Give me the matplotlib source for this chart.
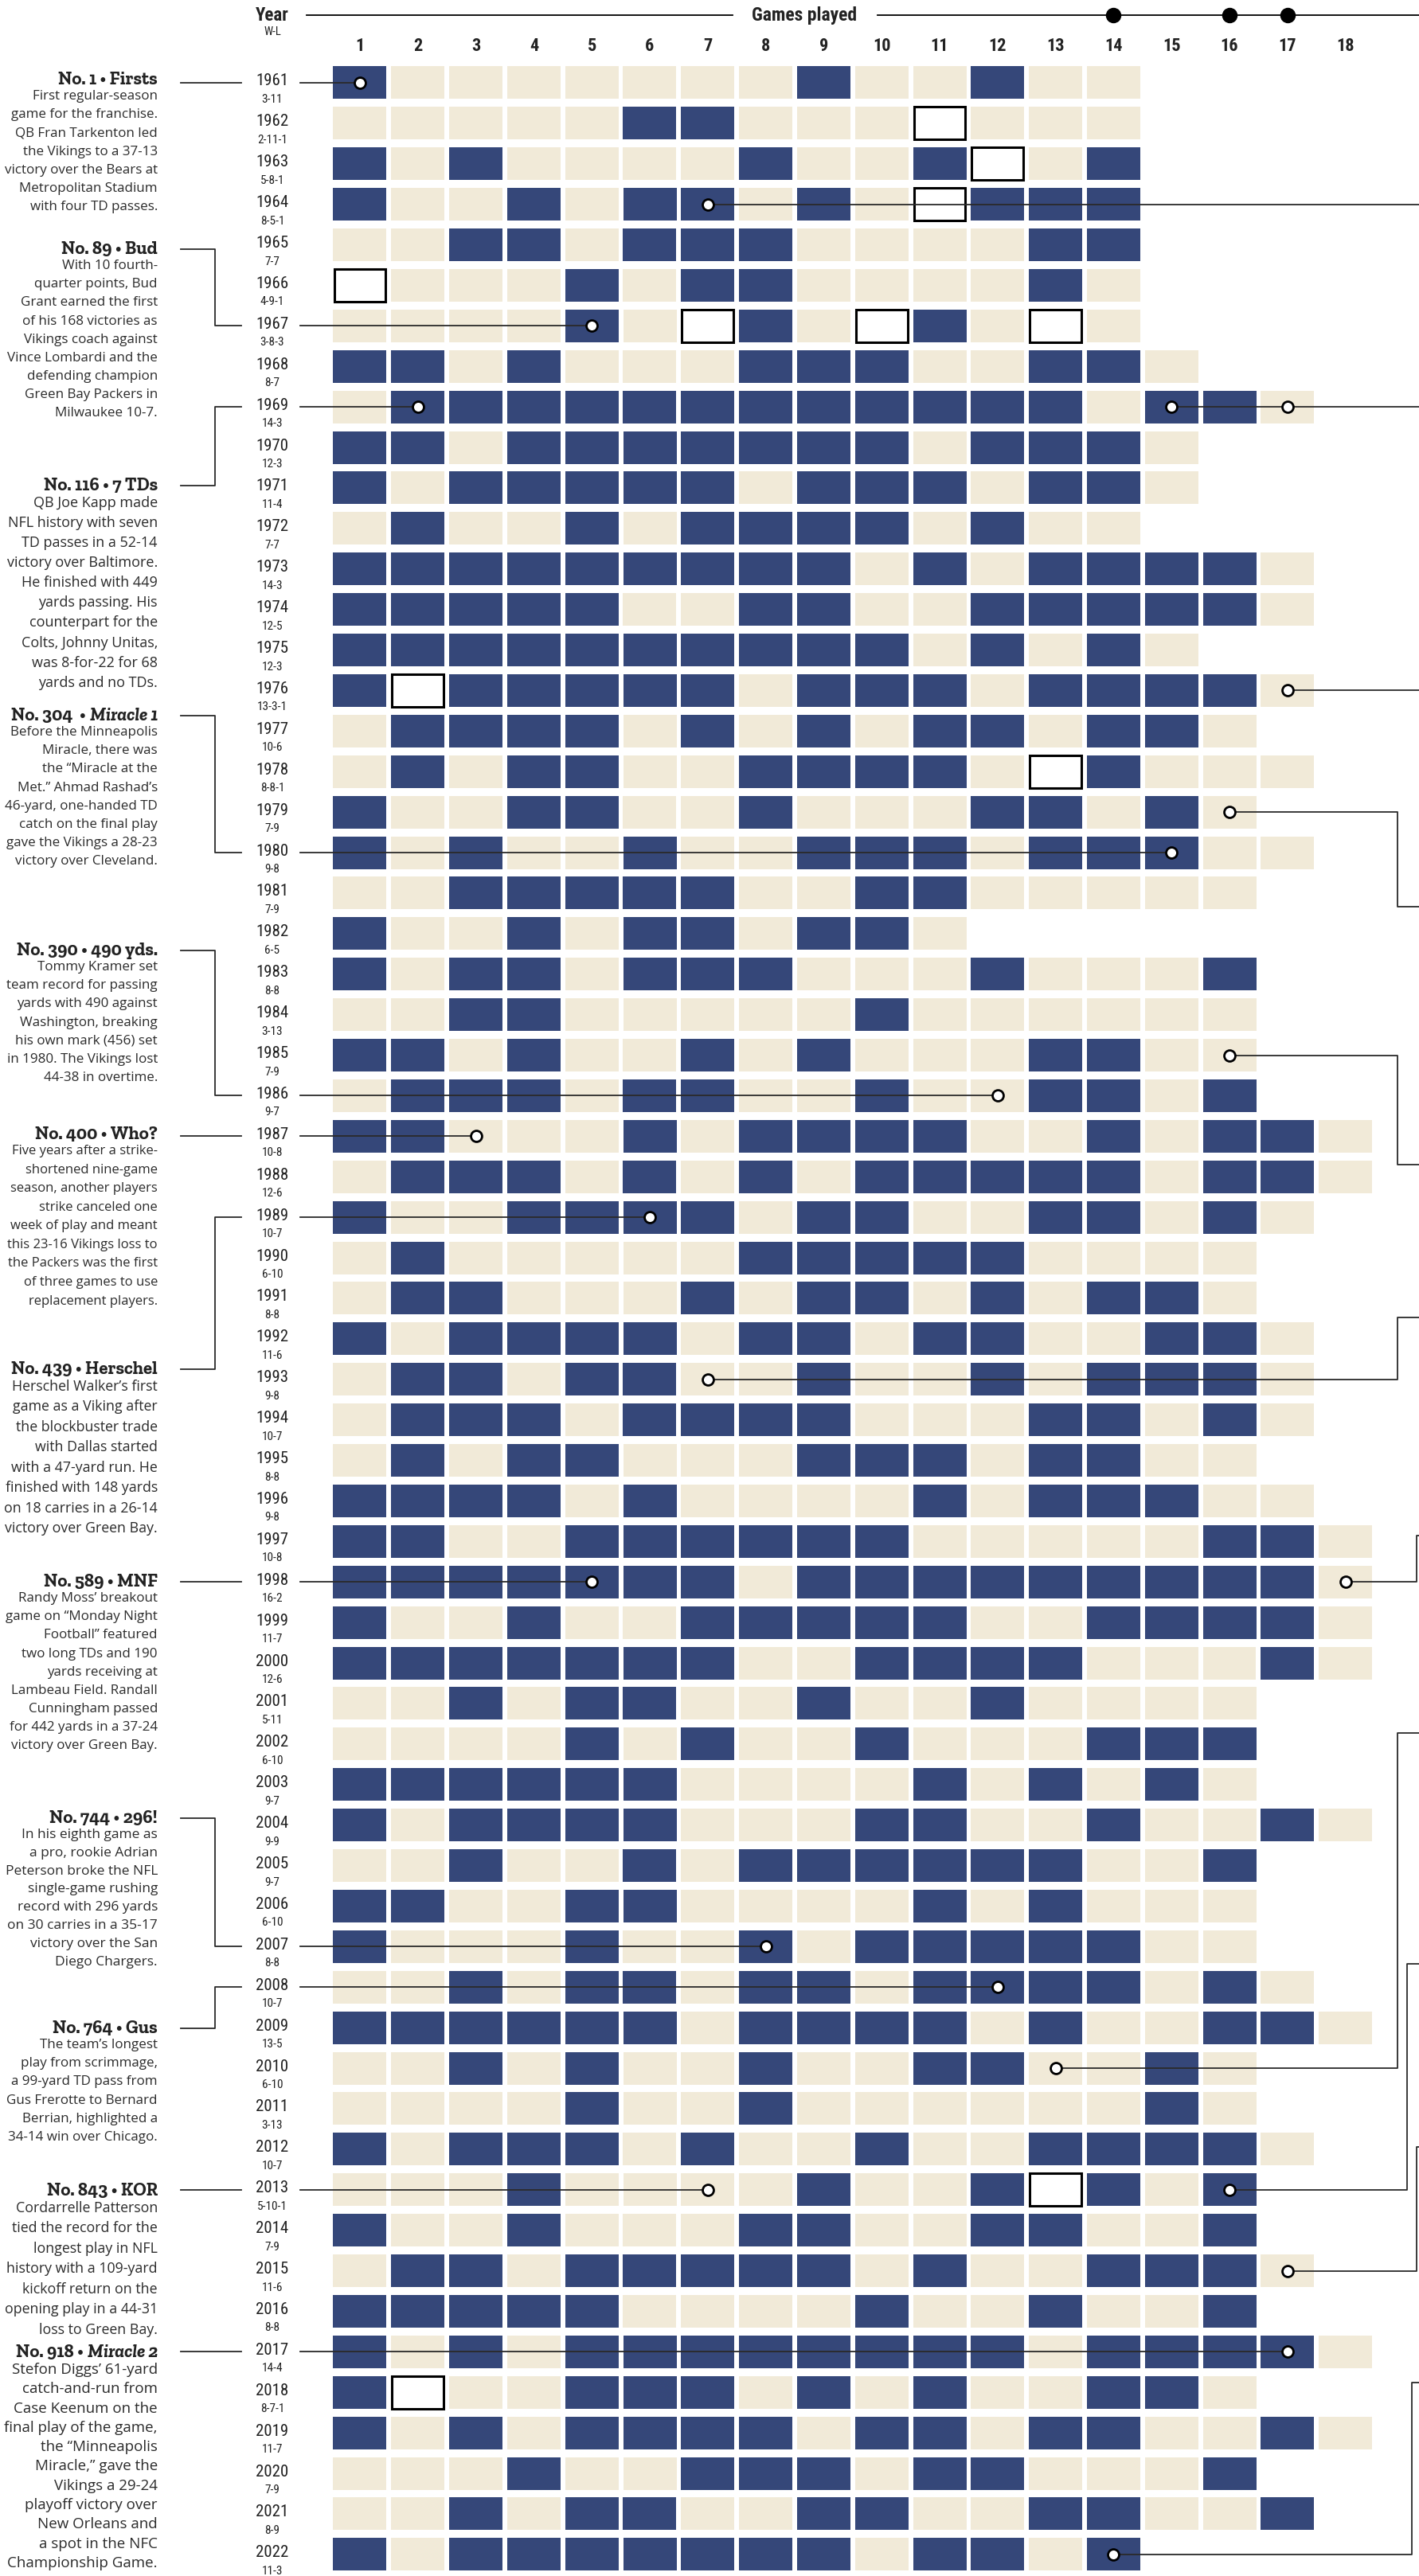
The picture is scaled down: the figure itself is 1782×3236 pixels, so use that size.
import matplotlib
matplotlib.use("Agg")
import matplotlib.pyplot as plt
from matplotlib import font_manager as fm

# ---- data -------------------------------------------------------------
years = list(range(1961, 2023))
records = ["3-11", "2-11-1", "5-8-1", "8-5-1", "7-7", "4-9-1", "3-8-3", "8-7",
           "14-3", "12-3", "11-4", "7-7", "14-3", "12-5", "12-3", "13-3-1",
           "10-6", "8-8-1", "7-9", "9-8", "7-9", "6-5", "8-8", "3-13", "7-9",
           "9-7", "10-8", "12-6", "10-7", "6-10", "8-8", "11-6", "9-8", "10-7",
           "8-8", "9-8", "10-8", "16-2", "11-7", "12-6", "5-11", "6-10", "9-7",
           "9-9", "9-7", "6-10", "8-8", "10-7", "13-5", "6-10", "3-13", "10-7",
           "5-10-1", "7-9", "11-6", "8-8", "14-4", "8-7-1", "11-7", "7-9",
           "8-9", "11-3"]
# W = win, L = loss, T = tie, game by game (playoffs included)
results = [
    "WLLLLLLLWLLWLL", "LLLLLWWLLLTLLL", "WLWLLLLWLLWTLW", "WLLWLWWLWLTWWW",
    "LLWWLWWWLLLLWW", "TLLLWLWWLLLLWL", "LLLLWLTWLTWLTL", "WWLWLLLWWWLLWWL",
    "LWWWWWWWWWWWWLWWL", "WWLWWWWWWWLWWWL", "WLWWWWWLWWWLWWL", "LWLLWLWWWWLWLL",
    "WWWWWWWWWLWLWWWWL", "WWWWWLLWWLLWWWWWL", "WWWWWWWWWWLWLWL", "WTWWWWWLWWWLWWWWL",
    "LWWWWLWLWLWWLWWL", "LWLWWLLWWWWLTWLLL", "WLLWWLLWLLLWWLWL", "WLWLLWLLWWWLWWWLL",
    "LLWWWWWLLWWLLLLL", "WLLWLWWLWWL", "WLWWLWWWLLLWLLLW", "LLWWLLLLLWLLLLLL",
    "WWLWLLWLWLLLWWLL", "LWWWLWWLLWLLWWLW", "WWLLLWLWWWWLLWLWWL", "LWWWLWLWLWWWWWLWWL",
    "WLLWWWWLWWLLWWLWL", "LWLLLLLWWWWWLLLL", "LWWLLLWLWWLWLWWL", "WLWWWWLWWLWWLLWWL",
    "LWWLWWLLWLLWLWWWL", "LWWWLWWWWLLLWWLWL", "LWLWWLLLWWWLWWLL", "WWWWLWLLLLWLWWWLL",
    "WWLLWWWWWWLLLLLWWL", "WWWWWWWLWWWWWWWWWL", "WLLWLLWWWWWLLWWWWL", "WWWWWWWLLWWWWLLLWL",
    "LLWLWWLLWLLWLLLL", "LLLLWLWLLWLLLWWW", "WWWWWWLLLLWLWLWL", "WLWWWWLLLWWLLWLLWL",
    "LLWLLWLWWWWWWLLW", "WWLLWWLLLLWLWLLL", "WLLLWLLWLWWWWWLL", "LLWLWWLWWLWWWWLWL",
    "WWWWWWLWWWWLWLLWWL", "LLWLWLLWLLWWLLWL", "LLLLWLLWLLLLLLWL", "WLWWWLWLLWLLWWWWL",
    "LLLWLLLLWLLWTWLW", "WLLWLLLWWLLWWLLW", "LWWLWWWWWLWLLWWWL", "WWWWWLLLLWLLWLLW",
    "WLWLWWWWWWWWLWWWWL", "WTLLWWWLWLWLLWWL", "WLWLWWWWLWWLWWLLWL", "LLLWLLWWWLWWLLLW",
    "LLWLWWLLWWLLWWLLW", "WLWWWWWWWLWWLW",
]
games = list(range(1, 19))
season_marks = [14, 16, 17]   # season length changes

# left notes: title, text, year, game, title y (px)
note_titles = ["No. 1 \u2022 Firsts", "No. 89 \u2022 Bud", "No. 116 \u2022 7 TDs",
               "No. 304  \u2022 Miracle 1", "No. 390 \u2022 490 yds.", "No. 400 \u2022 Who?",
               "No. 439 \u2022 Herschel", "No. 589 \u2022 MNF", "No. 744 \u2022 296!",
               "No. 764 \u2022 Gus", "No. 843 \u2022 KOR", "No. 918 \u2022 Miracle 2"]
note_texts = [
    "First regular-season\ngame for the franchise.\nQB Fran Tarkenton led\nthe Vikings to a 37-13\n"
    "victory over the Bears at\nMetropolitan Stadium\nwith four TD passes.",
    "With 10 fourth-\nquarter points, Bud\nGrant earned the first\nof his 168 victories as\n"
    "Vikings coach against\nVince Lombardi and the\ndefending champion\nGreen Bay Packers in\nMilwaukee 10-7.",
    "QB Joe Kapp made\nNFL history with seven\nTD passes in a 52-14\nvictory over Baltimore.\n"
    "He finished with 449\nyards passing. His\ncounterpart for the\nColts, Johnny Unitas,\n"
    "was 8-for-22 for 68\nyards and no TDs.",
    "Before the Minneapolis\nMiracle, there was\nthe \u201cMiracle at the\nMet.\u201d Ahmad Rashad\u2019s\n"
    "46-yard, one-handed TD\ncatch on the final play\ngave the Vikings a 28-23\nvictory over Cleveland.",
    "Tommy Kramer set\nteam record for passing\nyards with 490 against\nWashington, breaking\n"
    "his own mark (456) set\nin 1980. The Vikings lost\n44-38 in overtime.",
    "Five years after a strike-\nshortened nine-game\nseason, another players\nstrike canceled one\n"
    "week of play and meant\nthis 23-16 Vikings loss to\nthe Packers was the first\n"
    "of three games to use\nreplacement players.",
    "Herschel Walker\u2019s first\ngame as a Viking after\nthe blockbuster trade\nwith Dallas started\n"
    "with a 47-yard run. He\nfinished with 148 yards\non 18 carries in a 26-14\nvictory over Green Bay.",
    "Randy Moss\u2019 breakout\ngame on \u201cMonday Night\nFootball\u201d featured\ntwo long TDs and 190\n"
    "yards receiving at\nLambeau Field. Randall\nCunningham passed\nfor 442 yards in a 37-24\n"
    "victory over Green Bay.",
    "In his eighth game as\na pro, rookie Adrian\nPeterson broke the NFL\nsingle-game rushing\n"
    "record with 296 yards\non 30 carries in a 35-17\nvictory over the San\nDiego Chargers.",
    "The team\u2019s longest\nplay from scrimmage,\na 99-yard TD pass from\nGus Frerotte to Bernard\n"
    "Berrian, highlighted a\n34-14 win over Chicago.",
    "Cordarrelle Patterson\ntied the record for the\nlongest play in NFL\nhistory with a 109-yard\n"
    "kickoff return on the\nopening play in a 44-31\nloss to Green Bay.",
    "Stefon Diggs\u2019 61-yard\ncatch-and-run from\nCase Keenum on the\nfinal play of the game,\n"
    "the \u201cMinneapolis\nMiracle,\u201d gave the\nVikings a 29-24\nplayoff victory over\n"
    "New Orleans and\na spot in the NFC\nChampionship Game.",
]
note_years = [1961, 1967, 1969, 1980, 1986, 1987, 1989, 1998, 2007, 2008, 2013, 2017]
note_games = [1, 5, 2, 15, 12, 3, 6, 5, 8, 12, 7, 17]
note_title_y = [101, 314, 611, 900, 1195, 1426, 1721, 1988, 2285, 2549, 2753, 2956]

# right-hand leaders (their notes fall outside the crop)
right_years = [1964, 1969, 1976, 1979, 1985, 1993, 1998, 2010, 2013, 2015, 2022]
right_games = [7, 15, 17, 16, 16, 7, 18, 13, 16, 17, 14]
right_bend_x = [None, None, None, 1755, 1755, 1755, 1779, 1755, 1767, 1779, 1773]
right_end_y = [None, None, None, 1140, 1464, 1656, 1930, 2178, 2468, 2698, 2994]
extra_dots = [(1969, 17)]

# ---- fonts ------------------------------------------------------------
installed = {f.name for f in fm.fontManager.ttflist}


def pick(cands, default):
    for c in cands:
        if c in installed:
            return c
    return default


NARROW = [pick(["Roboto Condensed", "Liberation Sans Narrow"], "Liberation Sans"),
          "DejaVu Sans"]
SLAB = [pick(["Zilla Slab", "Roboto Slab", "Bitter", "Arvo", "Rokkitt",
              "Noto Serif"], "DejaVu Serif"), "DejaVu Serif"]
BODY = ["Open Sans", "DejaVu Sans"]

# ---- layout helpers ---------------------------------------------------
W_PX, H_PX = 1783, 3237
X0, PX = 452, 72.8      # centre of game 1, column pitch (px)
Y0, PY = 105, 50.9      # centre of 1961 row, row pitch (px)


def fx(px):
    return 1 + (px - X0) / PX


def fy(py):
    return 1961 + (py - Y0) / PY


NAVY = "#354779"
BEIGE = "#f1ead8"
INK = "#222222"
LINE = "#2a2a2a"

fig = plt.figure(figsize=(W_PX / 100, H_PX / 100), dpi=100)
ax = fig.add_axes([0, 0, 1, 1])
ax.set_xlim(fx(0), fx(W_PX))
ax.set_ylim(fy(H_PX), fy(0))
ax.axis("off")
renderer = fig.canvas.get_renderer()

cw, ch = 67 / PX, 41 / PY

# ---- cells ------------------------------------------------------------
for yr, res in zip(years, results):
    for kind, fc, ec, lw in (("W", NAVY, "none", 0), ("L", BEIGE, "none", 0),
                             ("T", "white", "black", 2.2)):
        xs = [g + 1 for g, c in enumerate(res) if c == kind]
        if xs:
            ax.bar(xs, [ch] * len(xs), width=cw if kind != "T" else cw - 0.03,
                   bottom=yr - ch / 2, color=fc, edgecolor=ec, linewidth=lw,
                   zorder=1)

# ---- year / record labels ---------------------------------------------
for yr, rec in zip(years, records):
    ax.text(fx(342), yr - 3 / PY, str(yr), ha="center", va="center",
            fontsize=15, family=NARROW, color=INK)
    ax.text(fx(342), yr + 20 / PY, rec, ha="center", va="center",
            fontsize=11, family=NARROW, color=INK)

# ---- header -----------------------------------------------------------
ax.text(fx(342), fy(20), "Year", ha="center", va="center", fontsize=16.5,
        fontweight="bold", family=NARROW, color=INK)
ax.text(fx(342), fy(40), "W-L", ha="center", va="center", fontsize=10.5,
        family=NARROW, color=INK)
ax.text(fx(1010), fy(20), "Games played", ha="center", va="center",
        fontsize=17, fontweight="bold", family=NARROW, color=INK)
ax.plot([fx(385), fx(920)], [fy(20)] * 2, color="black", lw=1.3, zorder=2)
ax.plot([fx(1102), fx(W_PX)], [fy(20)] * 2, color="black", lw=1.3, zorder=2)
ax.plot(season_marks, [fy(20)] * len(season_marks), "o", color="black",
        ms=13, zorder=3)
for g in games:
    ax.text(g, fy(58), str(g), ha="center", va="center", fontsize=16,
            fontweight="bold", family=NARROW, color=INK)


def fit(t, min_x=5):
    # shrink a right-aligned text until it stays inside the left edge
    while t.get_window_extent(renderer).x0 < min_x and t.get_fontsize() > 6:
        t.set_fontsize(t.get_fontsize() - 0.25)


# ---- left notes -------------------------------------------------------
RIGHT = 198
TSIZE = 16.5
BSIZE, BSPACE = 13.5, 1.45
for title, body, yr, g, ty in zip(note_titles, note_texts, note_years,
                                  note_games, note_title_y):
    if "Miracle" in title:
        head, tail = title.split("Miracle")
        size = TSIZE
        while True:
            t2 = ax.text(fx(RIGHT), fy(ty), "Miracle" + tail, ha="right",
                         va="center", fontsize=size, fontweight="heavy",
                         style="italic", family=SLAB, color=INK)
            w = t2.get_window_extent(renderer).width
            t1 = ax.text(fx(RIGHT - w - 5), fy(ty), head.rstrip(), ha="right",
                         va="center", fontsize=size, fontweight="heavy",
                         family=SLAB, color=INK)
            if t1.get_window_extent(renderer).x0 >= 5 or size < 8:
                break
            t1.remove()
            t2.remove()
            size -= 0.25
    else:
        t1 = ax.text(fx(RIGHT), fy(ty), title, ha="right", va="center",
                     fontsize=TSIZE, fontweight="heavy", family=SLAB,
                     color=INK)
        fit(t1)
    tb = ax.text(fx(RIGHT), fy(ty + 12), body, ha="right", va="top",
                 fontsize=BSIZE, family=BODY, color="#2b2b2b",
                 linespacing=BSPACE)
    fit(tb)
    # keep the same line pitch when a note had to shrink
    tb.set_linespacing(BSPACE * BSIZE / tb.get_fontsize())
    ry = Y0 + (yr - 1961) * PY
    if abs(ry - ty) < 8:
        xs, ys = [227, 303], [ry, ry]
    else:
        xs, ys = [227, 270, 270, 303], [ty, ty, ry, ry]
    ax.plot([fx(v) for v in xs], [fy(v) for v in ys], color=LINE, lw=1.3,
            zorder=3)
    ax.plot([fx(377), g], [yr, yr], color=LINE, lw=1.3, zorder=3)
    ax.plot(g, yr, "o", ms=10, mfc="white", mec="black", mew=2, zorder=5)

# ---- right leaders ----------------------------------------------------
for yr, g, bx, ey in zip(right_years, right_games, right_bend_x, right_end_y):
    if bx is None:
        ax.plot([g, fx(W_PX)], [yr, yr], color=LINE, lw=1.3, zorder=3)
    else:
        ax.plot([g, fx(bx), fx(bx), fx(W_PX)], [yr, yr, fy(ey), fy(ey)],
                color=LINE, lw=1.3, zorder=3)
    ax.plot(g, yr, "o", ms=10, mfc="white", mec="black", mew=2, zorder=5)
for yr, g in extra_dots:
    ax.plot(g, yr, "o", ms=10, mfc="white", mec="black", mew=2, zorder=5)

fig.savefig("out.png", dpi=100, facecolor="white")
